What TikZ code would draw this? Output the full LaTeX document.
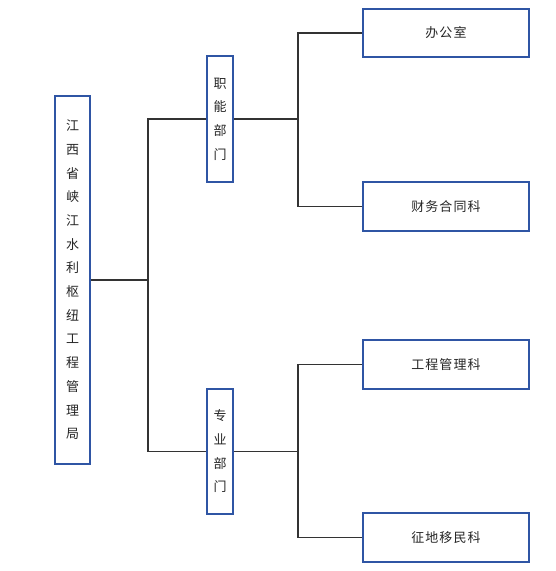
\documentclass[tikz,border=0pt]{standalone}
\usepackage{fontspec}
\newfontfamily\cjk{Noto Sans CJK SC}
\newfontfamily\cjkh[LetterSpace=8]{Noto Sans CJK SC}
\definecolor{boxblue}{HTML}{2F55A4}
\definecolor{linegray}{HTML}{333333}
\newcommand{\vstack}[1]{\begin{tabular}{@{}c@{}}#1\end{tabular}}
\begin{document}
\begin{tikzpicture}[x=1pt,y=-1pt,
  orgbox/.style={draw=boxblue,line width=2pt,fill=white,inner sep=0pt,
    font=\cjk\fontsize{13}{23.7}\selectfont,text=black!85},
  hbox/.style={orgbox,font=\cjkh\fontsize{13}{16}\selectfont},
  conn/.style={draw=linegray,line width=1.4pt}]
\useasboundingbox (0,0) rectangle (555,571);
\renewcommand{\arraystretch}{1}
\node[orgbox,minimum width=35pt,minimum height=368pt] (main) at (72.5,280)
  {\vstack{江\\西\\省\\峡\\江\\水\\利\\枢\\纽\\工\\程\\管\\理\\局}};
\node[orgbox,minimum width=26pt,minimum height=126pt] (d1) at (220,119)
  {\vstack{职\\能\\部\\门}};
\node[orgbox,minimum width=26pt,minimum height=125pt] (d2) at (220,451.5)
  {\vstack{专\\业\\部\\门}};
\node[hbox,minimum width=166pt,minimum height=48pt] (b1) at (446,33) {办公室};
\node[hbox,minimum width=166pt,minimum height=49pt] (b2) at (446,206.5) {财务合同科};
\node[hbox,minimum width=166pt,minimum height=49pt] (b3) at (446,364.5) {工程管理科};
\node[hbox,minimum width=166pt,minimum height=49pt] (b4) at (446,537.5) {征地移民科};
\coordinate (j1) at (148,280);
\coordinate (j2) at (298,119);
\coordinate (j3) at (298,451.5);
\draw[conn] (main.east) -- (j1);
\draw[conn] (d1.west) -- (d1.west -| j1) -- (d2.west -| j1) -- (d2.west);
\draw[conn] (d1.east) -- (j2);
\draw[conn] (b1.west) -- (b1.west -| j2) -- (b2.west -| j2) -- (b2.west);
\draw[conn] (d2.east) -- (j3);
\draw[conn] (b3.west) -- (b3.west -| j3) -- (b4.west -| j3) -- (b4.west);
\end{tikzpicture}
\end{document}
